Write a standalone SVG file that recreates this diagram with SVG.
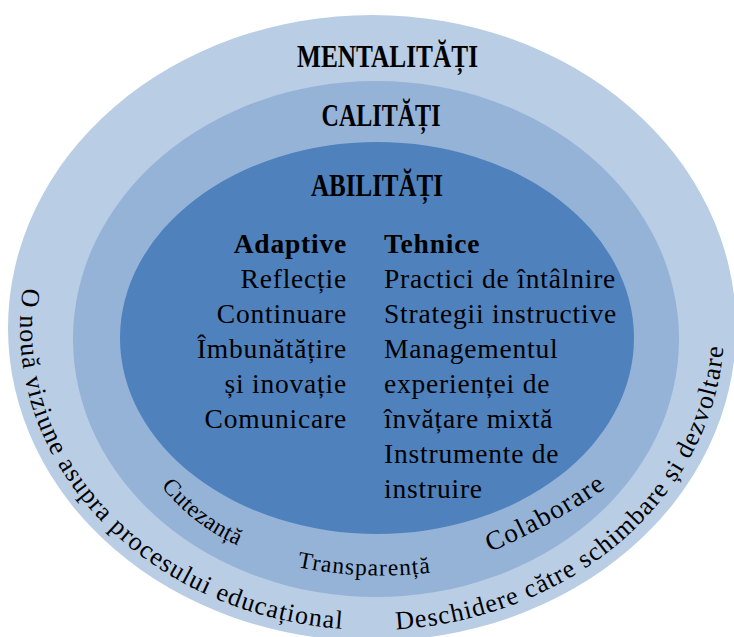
<svg xmlns="http://www.w3.org/2000/svg" width="734" height="637" viewBox="0 0 734 637">
<style>
text{font-family:"Liberation Serif","Times New Roman",serif;fill:#000}
.title{font-weight:bold;font-size:32px;text-anchor:middle}
.item{font-size:27.5px;letter-spacing:0.8px}
.head{font-weight:bold}
.left{text-anchor:end}
.outer{font-size:26px;letter-spacing:1.15px}
.band{font-size:23.5px}
</style>
<defs>
<path id="p-vision" d="M23.1,288 A352,302 0 0 0 368,630"/>
<path id="p-open" d="M396,629.3 A352,302 0 0 0 723.4,310.4"/>
<path id="p-cut" d="M161,486 Q193,526 241,547"/>
<path id="p-trans" d="M297,567 Q366,581 436,572"/>
<path id="p-col" d="M490,552 Q552,526 607,487"/>
</defs>
<g id="mentalitati">
<ellipse cx="372" cy="328" rx="364" ry="313" fill="#b9cde5"/>
<text class="title" x="387.5" y="67" textLength="181" lengthAdjust="spacingAndGlyphs">MENTALITĂȚI</text>
<text class="outer"><textPath href="#p-vision">O nouă viziune asupra procesului educațional</textPath></text>
<text class="outer"><textPath href="#p-open">Deschidere către schimbare și dezvoltare</textPath></text>
</g>
<g id="calitati">
<ellipse cx="376" cy="339" rx="303" ry="258" fill="#95b3d7"/>
<text class="title" x="381" y="126" textLength="119" lengthAdjust="spacingAndGlyphs">CALITĂȚI</text>
<text class="band" letter-spacing="0.5"><textPath href="#p-cut">Cutezanță</textPath></text>
<text class="band" letter-spacing="1.1"><textPath href="#p-trans">Transparență</textPath></text>
<text class="band" style="font-size:27px" letter-spacing="1.4"><textPath href="#p-col">Colaborare</textPath></text>
</g>
<g id="abilitati">
<ellipse cx="377" cy="338" rx="257" ry="196" fill="#4f81bd"/>
<text class="title" x="377" y="196" textLength="132" lengthAdjust="spacingAndGlyphs">ABILITĂȚI</text>
</g>
<g id="adaptive">
<text class="item left head" x="347" y="253">Adaptive</text>
<text class="item left" x="347" y="288">Reflecție</text>
<text class="item left" x="347" y="323">Continuare</text>
<text class="item left" x="347" y="358">Îmbunătățire</text>
<text class="item left" x="347" y="393">și inovație</text>
<text class="item left" x="347" y="428">Comunicare</text>
</g>
<g id="tehnice">
<text class="item head" x="384" y="253">Tehnice</text>
<text class="item" x="384" y="288">Practici de întâlnire</text>
<text class="item" x="384" y="323">Strategii instructive</text>
<text class="item" x="384" y="358">Managementul</text>
<text class="item" x="384" y="393">experienței de</text>
<text class="item" x="384" y="428">învățare mixtă</text>
<text class="item" x="384" y="463">Instrumente de</text>
<text class="item" x="384" y="498">instruire</text>
</g>
</svg>
